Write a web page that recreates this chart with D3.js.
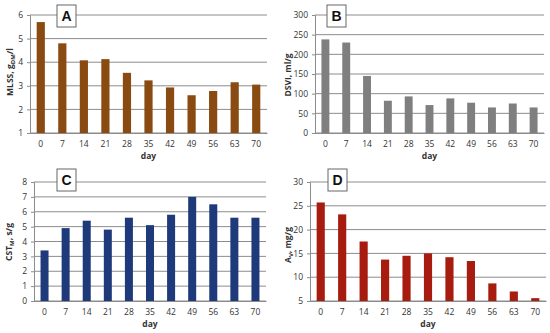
<!DOCTYPE html>
<html>
<head>
<meta charset="utf-8">
<script src="https://cdn.jsdelivr.net/npm/d3@7"></script>
<style>
  body { margin: 0; background: #fff; }
  svg text { font-family: "Open Sans", "Liberation Sans", sans-serif; }
</style>
</head>
<body>
<div id="chart"></div>
<script>
/* Four small bar panels A-D, sludge properties over time */

const days = ["0", "7", "14", "21", "28", "35", "42", "49", "56", "63", "70"];

const mlss = [5.7, 4.8, 4.08, 4.13, 3.55, 3.23, 2.93, 2.6, 2.78, 3.15, 3.05];
const dsvi = [238, 230, 145, 82, 93, 71, 88, 77, 65, 75, 65];
const cst = [3.4, 4.9, 5.4, 4.8, 5.6, 5.1, 5.8, 7.0, 6.5, 5.6, 5.6];
const av = [25.7, 23.2, 17.5, 13.7, 14.5, 15.0, 14.2, 13.4, 8.7, 7.0, 5.6];

const mlssTicks = [1, 2, 3, 4, 5, 6];
const dsviTicks = [0, 50, 100, 150, 200, 250, 300];
const cstTicks = [0, 1, 2, 3, 4, 5, 6, 7, 8];
const avTicks = [5, 10, 15, 20, 25, 30];

const width = 550, height = 333;

let svg = d3.select("#chart")
    .append("svg")
    .attr("width", width)
    .attr("height", height);

// one panel: p holds the layout for that panel
function panel(p) {
    let x = d3.scaleBand()
        .domain(days)
        .range([p.x0, p.x1])
        .paddingInner(0.62)
        .paddingOuter(0.31);

    let y = d3.scaleLinear()
        .domain([p.ticks[0], p.ticks[p.ticks.length - 1]])
        .range([p.yb, p.yt]);

    let g = svg.append("g");

    // gridlines
    g.selectAll(".grid")
        .data(p.ticks)
        .join("line")
        .attr("x1", p.x0)
        .attr("x2", p.x1)
        .attr("y1", d => y(d))
        .attr("y2", d => y(d))
        .attr("stroke", "#8c8c8c")
        .attr("stroke-width", 1);

    // y axis with left ticks
    let ya = g.append("g")
        .attr("transform", `translate(${p.x0},0)`)
        .call(d3.axisLeft(y).tickValues(p.ticks).tickFormat(d => d).tickSize(3).tickPadding(4));
    ya.select(".domain").attr("stroke", "#8c8c8c");
    ya.selectAll(".tick line").attr("stroke", "#8c8c8c");
    ya.selectAll(".tick text")
        .style("font-size", "8.5px")
        .attr("fill", "#333");

    // x axis
    let xa = g.append("g")
        .attr("transform", `translate(0,${p.yb})`)
        .call(d3.axisBottom(x).tickSize(0).tickPadding(8));
    xa.select(".domain").attr("stroke", "#8c8c8c");
    xa.selectAll(".tick text")
        .style("font-size", "8.5px")
        .attr("fill", "#333");

    // bars
    g.selectAll(".bar")
        .data(p.values)
        .join("rect")
        .attr("x", (d, i) => x(days[i]))
        .attr("width", x.bandwidth())
        .attr("y", d => y(d))
        .attr("height", d => y(p.ticks[0]) - y(d))
        .attr("fill", p.color);

    // x axis name
    g.append("text")
        .attr("x", (p.x0 + p.x1) / 2)
        .attr("y", p.yb + 26)
        .attr("text-anchor", "middle")
        .style("font-size", "8.5px")
        .style("font-weight", "bold")
        .attr("fill", "#333")
        .text("day");

    // y axis name
    let lab = g.append("text")
        .attr("transform", `translate(${p.lx},${p.ly}) rotate(-90)`)
        .attr("text-anchor", "middle")
        .attr("dy", "0.35em")
        .style("font-size", "8.5px")
        .style("font-weight", "bold")
        .attr("fill", "#333");
    lab.append("tspan").text(p.label[0]);
    if (p.label.length > 1) {
        lab.append("tspan")
            .attr("dy", "2.5")
            .style("font-size", "6px")
            .text(p.label[1]);
        lab.append("tspan")
            .attr("dy", "-2.5")
            .text(p.label[2]);
    }

    // letter box
    g.append("rect")
        .attr("x", p.bx)
        .attr("y", p.by)
        .attr("width", 19)
        .attr("height", 22)
        .attr("fill", "#fff")
        .attr("stroke", "#666")
        .attr("stroke-width", 1);
    g.append("text")
        .attr("x", p.bx + 9.5)
        .attr("y", p.by + 16)
        .attr("text-anchor", "middle")
        .style("font-family", "'Liberation Sans', Arial, sans-serif")
        .style("font-size", "14px")
        .style("font-weight", "bold")
        .attr("fill", "#111")
        .text(p.letter);
}

panel({ values: mlss, ticks: mlssTicks, color: "#8a4b12",
        x0: 30, x1: 267, yt: 15, yb: 133,
        label: ["MLSS, g", "DM", "/l"], lx: 10, ly: 72,
        bx: 57, by: 5, letter: "A" });

panel({ values: dsvi, ticks: dsviTicks, color: "#7f7f7f",
        x0: 315, x1: 544, yt: 15, yb: 133,
        label: ["DSVI, ml/g"], lx: 288, ly: 75,
        bx: 327, by: 5, letter: "B" });

panel({ values: cst, ticks: cstTicks, color: "#1f3a7a",
        x0: 34, x1: 266, yt: 182, yb: 301,
        label: ["CST", "M", ", s/g"], lx: 9, ly: 242,
        bx: 57, by: 169, letter: "C" });

panel({ values: av, ticks: avTicks, color: "#a81c10",
        x0: 310, x1: 546, yt: 182, yb: 301,
        label: ["A", "V", ", mg/g"], lx: 288, ly: 245,
        bx: 328, by: 169, letter: "D" });
</script>
</body>
</html>
